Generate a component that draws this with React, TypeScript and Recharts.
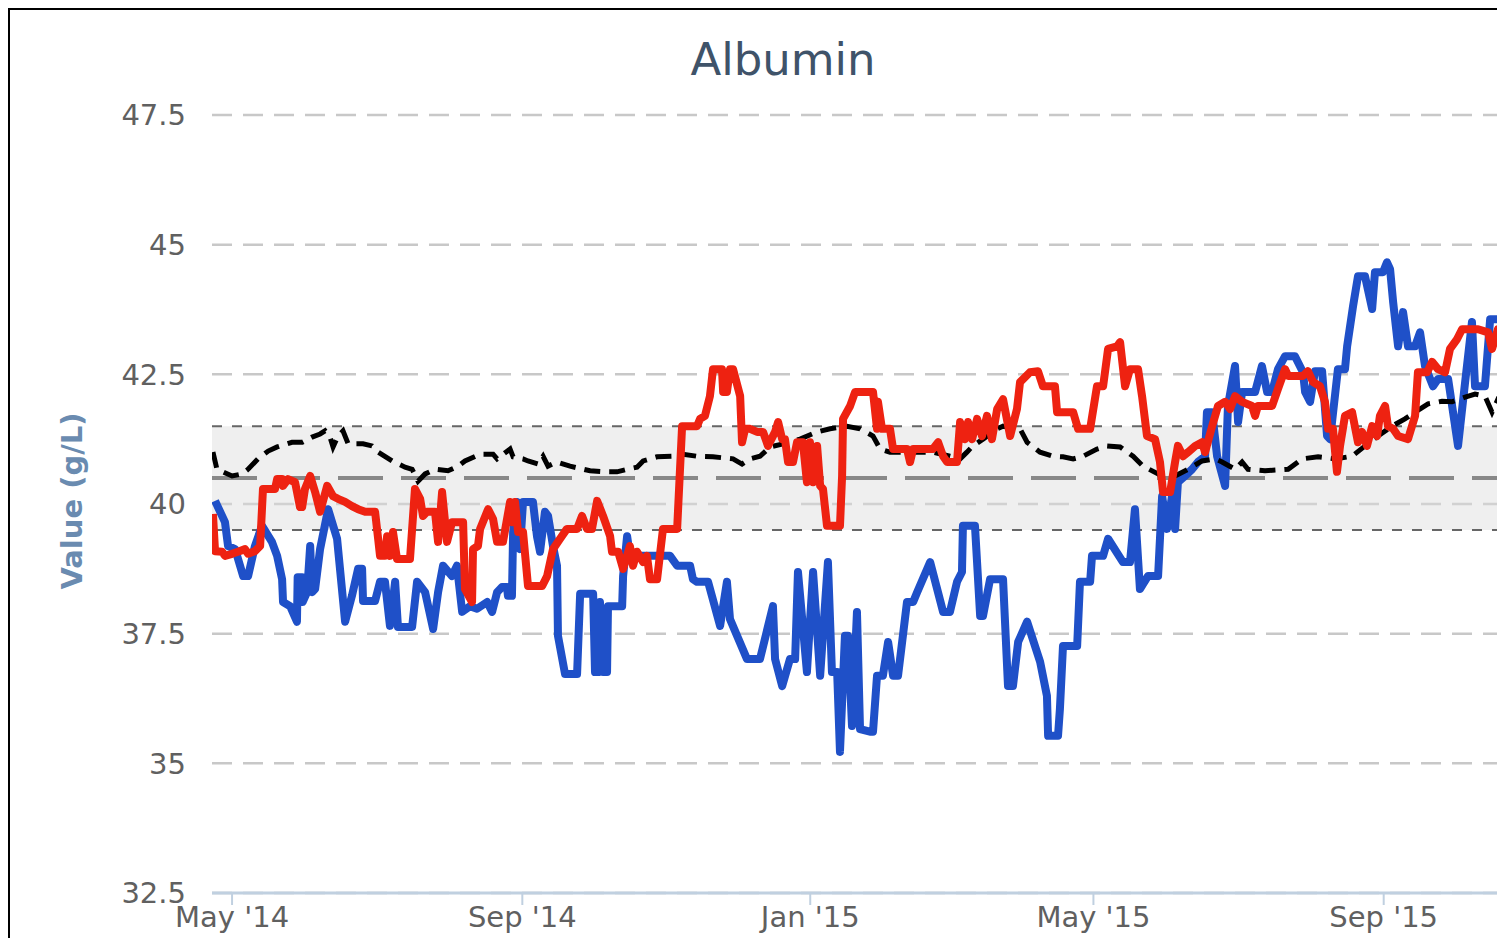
import React from "react";
import {
  LineChart,
  Line,
  XAxis,
  YAxis,
  CartesianGrid,
  ReferenceArea,
  ReferenceLine,
  Label,
} from "recharts";

// x values are days since 1 May 2014
const monthTickDays = [0, 123, 245, 365, 488];
const monthTickLabels = ["May '14", "Sep '14", "Jan '15", "May '15", "Sep '15"];
const valueTicks = [32.5, 35, 37.5, 40, 42.5, 45, 47.5];
const dayDomain = [-8.5, 539.4];

// reference range
const rangeLow = 39.5;
const rangeMid = 40.5;
const rangeHigh = 41.5;

// [day, g/L]
const bluePatient = [
  [-7.2, 40.06], [-3.0, 39.65], [-1.7, 39.19], [1.3, 39.13], [4.7, 38.61], [6.8, 38.61],
  [9.7, 39.19], [12.7, 39.58], [16.9, 39.27], [19.1, 39.0], [21.2, 38.55], [21.6, 38.11],
  [24.6, 38.03], [27.5, 37.73], [27.8, 38.59], [29.7, 38.59], [29.9, 38.11], [31.8, 38.3],
  [33.1, 39.19], [33.9, 38.3], [35.2, 38.36], [37.3, 39.13], [40.7, 39.9], [44.5, 39.33],
  [47.9, 37.73], [50.8, 38.23], [53.4, 38.75], [55.1, 38.75], [55.5, 38.13], [60.6, 38.13],
  [62.7, 38.5], [64.8, 38.5], [66.9, 37.65], [69.1, 38.5], [70.3, 37.63], [76.3, 37.63],
  [78.4, 38.5], [81.8, 38.3], [85.2, 37.59], [87.3, 38.3], [89.4, 38.81], [93.2, 38.61],
  [95.3, 38.81], [97.5, 37.92], [100.8, 38.03], [103.8, 37.98], [108.1, 38.11], [110.2, 37.92],
  [112.3, 38.3], [114.4, 38.4], [116.5, 38.4], [116.9, 38.23], [118.6, 38.23], [119.1, 39.46],
  [120.8, 40.04], [122.0, 39.13], [123.3, 40.04], [127.5, 40.04], [129.2, 39.38], [130.5, 39.08],
  [132.6, 39.85], [133.9, 39.77], [136.0, 39.19], [137.7, 38.81], [138.1, 37.46], [141.1, 36.72],
  [146.2, 36.72], [147.5, 38.27], [153.0, 38.27], [153.8, 36.76], [155.1, 36.76], [155.9, 38.11],
  [157.2, 36.76], [158.9, 36.76], [159.3, 38.03], [165.3, 38.03], [165.7, 38.61], [167.4, 39.38],
  [168.6, 39.0], [177.1, 39.0], [185.6, 39.0], [188.6, 38.81], [194.1, 38.81], [195.3, 38.55],
  [197.0, 38.5], [201.7, 38.5], [206.8, 37.65], [209.7, 38.5], [211.0, 37.78], [218.2, 37.01],
  [223.7, 37.01], [229.2, 38.03], [230.1, 37.01], [233.1, 36.49], [236.4, 37.01], [238.6, 37.01],
  [239.8, 38.69], [243.6, 36.76], [246.2, 38.69], [249.2, 36.69], [252.5, 38.88], [254.2, 36.76],
  [256.4, 36.76], [257.6, 35.22], [259.7, 37.46], [261.0, 37.46], [262.7, 35.72], [264.8, 37.92],
  [266.1, 35.66], [270.3, 35.61], [271.6, 35.61], [273.3, 36.69], [275.8, 36.69], [278.0, 37.34],
  [280.1, 36.69], [282.2, 36.69], [286.0, 38.11], [288.6, 38.11], [290.3, 38.3], [295.8, 38.88],
  [301.3, 37.92], [304.2, 37.92], [307.2, 38.5], [309.3, 38.69], [309.7, 39.58], [314.8, 39.58],
  [317.0, 37.84], [318.2, 37.84], [321.2, 38.55], [326.7, 38.55], [328.8, 36.49], [330.9, 36.49],
  [333.1, 37.34], [336.9, 37.73], [342.4, 36.96], [345.3, 36.3], [345.8, 35.53], [350.0, 35.53],
  [350.8, 36.05], [352.1, 37.26], [358.1, 37.26], [359.3, 38.5], [363.6, 38.5], [364.4, 39.0],
  [369.1, 39.0], [371.2, 39.33], [377.5, 38.88], [380.5, 38.88], [382.6, 39.9], [384.7, 38.36],
  [388.1, 38.61], [392.4, 38.61], [394.1, 40.15], [396.2, 39.52], [398.3, 40.15], [399.6, 39.52],
  [400.8, 40.42], [403.8, 40.54], [406.8, 40.67], [409.3, 40.81], [412.3, 40.92], [413.1, 41.77],
  [415.3, 41.77], [417.4, 40.92], [420.8, 40.35], [422.0, 41.89], [425.0, 42.66], [426.3, 41.58],
  [428.0, 42.16], [433.5, 42.16], [436.4, 42.66], [438.6, 42.16], [440.7, 42.16], [443.2, 42.6],
  [446.2, 42.85], [450.4, 42.85], [453.8, 42.54], [454.7, 42.16], [456.8, 41.97], [458.9, 42.56],
  [461.9, 42.56], [464.0, 41.31], [465.3, 41.25], [468.6, 42.6], [471.6, 42.6], [472.5, 43.04],
  [475.0, 43.81], [477.1, 44.39], [480.1, 44.39], [483.1, 43.76], [484.3, 44.47], [487.7, 44.47],
  [489.4, 44.66], [490.7, 44.53], [492.0, 43.89], [494.1, 43.04], [496.2, 43.7], [498.3, 43.04],
  [501.3, 43.04], [503.4, 43.31], [505.5, 42.66], [508.9, 42.27], [511.0, 42.41], [515.3, 42.41],
  [519.5, 41.12], [522.5, 42.35], [525.4, 43.51], [526.7, 42.27], [530.9, 42.27], [533.1, 43.56],
  [539.4, 43.56],
];

const redPatient = [
  [-8.1, 39.81], [-7.2, 39.09], [-4.2, 39.08], [-3.0, 39.0], [0, 39.04], [2.5, 39.08],
  [5.5, 39.13], [6.8, 39.04], [9.7, 39.09], [11.9, 39.19], [13.1, 40.29], [18.2, 40.29],
  [19.1, 40.48], [21.2, 40.48], [21.6, 40.35], [23.7, 40.48], [26.7, 40.42], [28.8, 39.94],
  [29.7, 39.94], [30.9, 40.29], [33.1, 40.54], [35.2, 40.23], [37.3, 39.85], [40.3, 40.35],
  [42.8, 40.15], [44.9, 40.1], [47.9, 40.04], [50.8, 39.96], [53.4, 39.9], [56.4, 39.85],
  [60.6, 39.85], [61.9, 39.33], [62.7, 39.0], [64.8, 39.0], [65.7, 39.38], [66.9, 39.0],
  [68.2, 39.46], [69.9, 38.94], [75.4, 38.94], [77.5, 40.29], [79.7, 40.1], [80.9, 39.77],
  [82.6, 39.85], [86.0, 39.85], [87.3, 39.27], [89.0, 40.23], [91.1, 39.27], [93.2, 39.65],
  [97.9, 39.65], [98.7, 38.36], [101.7, 38.11], [102.1, 39.13], [104.2, 39.19], [105.1, 39.52],
  [108.5, 39.9], [110.6, 39.71], [112.3, 39.27], [114.8, 39.27], [117.8, 40.04], [118.6, 39.65],
  [119.9, 40.04], [121.2, 39.46], [123.3, 39.46], [125.4, 38.42], [131.4, 38.42], [133.5, 38.61],
  [136.0, 39.13], [139.0, 39.33], [141.9, 39.52], [146.2, 39.52], [148.3, 39.77], [150.4, 39.52],
  [152.5, 39.52], [154.7, 40.06], [157.2, 39.77], [160.2, 39.38], [161.0, 39.08], [163.6, 39.08],
  [165.7, 38.75], [168.6, 39.19], [169.9, 38.81], [171.6, 39.08], [174.2, 38.88], [175.8, 39.0],
  [177.1, 38.55], [180.1, 38.55], [182.6, 39.52], [188.6, 39.52], [190.7, 41.5], [197.0, 41.5],
  [198.3, 41.64], [200.4, 41.7], [202.5, 42.08], [203.8, 42.6], [207.6, 42.6], [208.1, 42.16],
  [209.7, 42.16], [211.0, 42.6], [212.3, 42.6], [215.3, 42.08], [216.1, 41.19], [217.4, 41.45],
  [219.5, 41.45], [222.5, 41.39], [225.0, 41.39], [227.1, 41.12], [230.1, 41.39], [231.4, 41.58],
  [233.1, 41.25], [234.3, 41.25], [235.6, 40.81], [237.7, 40.81], [239.4, 41.19], [241.9, 41.19],
  [243.6, 40.42], [244.9, 41.19], [246.2, 40.42], [247.9, 41.12], [249.2, 40.35], [250.4, 40.29],
  [252.1, 39.58], [257.6, 39.58], [258.5, 40.54], [258.9, 41.64], [261.9, 41.89], [264.0, 42.16],
  [271.6, 42.16], [273.3, 41.45], [273.7, 41.97], [275.4, 41.45], [278.8, 41.45], [280.1, 41.06],
  [286.0, 41.06], [287.3, 40.81], [288.6, 41.06], [297.0, 41.06], [299.2, 41.19], [301.3, 40.92],
  [303.0, 40.81], [307.2, 40.81], [308.5, 41.58], [310.6, 41.25], [311.9, 41.58], [313.6, 41.25],
  [315.7, 41.64], [317.8, 41.31], [319.9, 41.7], [322.0, 41.25], [324.2, 41.83], [326.7, 42.02],
  [329.7, 41.31], [332.6, 41.83], [333.9, 42.35], [338.1, 42.54], [341.5, 42.56], [343.6, 42.27],
  [348.7, 42.27], [349.6, 41.77], [356.4, 41.77], [358.5, 41.45], [363.6, 41.45], [366.5, 42.27],
  [369.1, 42.27], [371.2, 42.99], [375.0, 43.04], [376.3, 43.12], [378.4, 42.27], [380.5, 42.6],
  [383.9, 42.6], [385.6, 42.08], [387.7, 41.31], [391.1, 41.25], [393.2, 40.81], [394.5, 40.23],
  [397.5, 40.23], [399.6, 40.81], [400.8, 41.12], [403.0, 40.92], [405.1, 41.0], [408.1, 41.12],
  [411.0, 41.19], [412.3, 41.0], [415.3, 41.5], [417.8, 41.89], [420.8, 41.97], [422.9, 41.83],
  [425.0, 42.08], [428.0, 41.97], [432.2, 41.89], [433.5, 41.7], [434.7, 41.89], [440.7, 41.89],
  [443.2, 42.22], [446.2, 42.6], [447.5, 42.47], [453.8, 42.47], [455.9, 42.56], [458.1, 42.35],
  [461.0, 42.27], [463.1, 41.97], [464.4, 41.45], [466.5, 41.45], [468.2, 40.62], [469.5, 41.12],
  [471.6, 41.7], [474.6, 41.77], [477.1, 41.19], [478.8, 41.39], [480.9, 41.12], [483.1, 41.5],
  [485.2, 41.31], [486.4, 41.7], [488.6, 41.89], [489.8, 41.5], [492.0, 41.45], [494.1, 41.31],
  [498.3, 41.25], [501.3, 41.7], [502.5, 42.54], [506.4, 42.54], [508.5, 42.74], [511.0, 42.6],
  [514.0, 42.54], [516.1, 42.99], [519.1, 43.18], [521.2, 43.37], [528.0, 43.37], [532.2, 43.31],
  [533.9, 42.99], [536.4, 43.37], [539.4, 42.7],
];

const blackAverage = [
  [-8.1, 41.0], [-6.4, 40.67], [0, 40.54], [4.2, 40.58], [6.8, 40.67], [11.0, 40.87],
  [15.3, 41.02], [19.1, 41.1], [25.4, 41.19], [29.7, 41.19], [33.9, 41.29], [37.3, 41.35],
  [39.4, 41.41], [41.5, 41.29], [42.8, 41.1], [44.9, 41.31], [47.0, 41.41], [49.2, 41.16],
  [55.5, 41.16], [59.3, 41.12], [61.9, 41.0], [67.8, 40.83], [73.3, 40.71], [76.3, 40.67],
  [78.8, 40.44], [81.8, 40.58], [86.0, 40.67], [91.5, 40.64], [95.8, 40.73], [98.7, 40.83],
  [105.1, 40.96], [110.6, 40.96], [112.3, 40.87], [117.8, 41.06], [119.1, 40.91], [123.3, 40.87],
  [125.4, 40.83], [129.7, 40.77], [131.8, 40.92], [133.9, 40.73], [137.7, 40.81], [143.2, 40.73],
  [151.7, 40.64], [158.9, 40.62], [163.1, 40.62], [167.4, 40.67], [171.6, 40.71], [174.2, 40.83],
  [180.1, 40.91], [186.9, 40.92], [191.1, 40.96], [197.0, 40.92], [203.8, 40.91], [212.3, 40.87],
  [216.1, 40.77], [219.5, 40.87], [223.7, 40.92], [228.0, 41.1], [233.5, 41.16], [240.7, 41.25],
  [247.9, 41.39], [253.4, 41.45], [260.6, 41.5], [266.1, 41.45], [271.6, 41.31], [274.6, 41.06],
  [278.8, 41.0], [284.3, 41.0], [290.3, 41.0], [297.0, 41.0], [304.2, 40.92], [308.5, 40.87],
  [311.4, 41.0], [313.9, 41.12], [318.2, 41.25], [324.2, 41.45], [326.7, 41.5], [330.9, 41.45],
  [333.9, 41.45], [336.9, 41.19], [342.4, 41.0], [347.9, 40.92], [352.1, 40.91], [356.4, 40.87],
  [360.6, 40.92], [366.5, 41.06], [370.8, 41.12], [376.3, 41.1], [381.8, 40.92], [386.0, 40.73],
  [394.1, 40.54], [399.6, 40.54], [405.1, 40.67], [411.0, 40.83], [416.5, 40.87], [419.5, 40.81],
  [425.0, 40.67], [428.0, 40.81], [430.5, 40.67], [437.7, 40.64], [447.5, 40.67], [453.4, 40.87],
  [460.2, 40.91], [467.4, 40.87], [474.6, 40.92], [480.1, 41.12], [485.6, 41.31], [491.5, 41.5],
  [497.0, 41.64], [501.3, 41.77], [506.8, 41.93], [512.7, 41.98], [516.9, 41.97], [522.5, 42.06],
  [526.7, 42.12], [530.9, 42.08], [533.9, 41.77], [536.4, 42.02], [539.4, 41.97],
];

const toPoints = (rows: number[][]) => rows.map(([day, value]) => ({ day, value }));

const FONT = "DejaVu Sans";

const yAxisTitle = () => (
  <text
    x={62}
    y={491}
    transform="rotate(-90, 62, 491)"
    textAnchor="middle"
    dominantBaseline="central"
    fill="#6a8bb0"
    fontSize={29}
    fontWeight="bold"
    fontFamily={FONT}
  >
    Value (g/L)
  </text>
);

export default function App() {
  return (
    <div
      style={{
        position: "relative",
        width: 1497,
        height: 930,
        boxSizing: "border-box",
        borderLeft: "2px solid #000",
        borderTop: "2px solid #000",
        overflow: "hidden",
        background: "#fff",
        fontFamily: FONT,
      }}
    >
      <div
        style={{
          position: "absolute",
          left: 0,
          top: 24,
          width: 1546,
          textAlign: "center",
          fontSize: 45,
          lineHeight: "52px",
          color: "#3f5369",
        }}
      >
        Albumin
      </div>
      <LineChart
        width={1495}
        height={936}
        margin={{ top: 105, right: 0, left: 0, bottom: 0 }}
      >
        <ReferenceArea
          y1={rangeLow}
          y2={rangeHigh}
          fill="#dcdcdc"
          fillOpacity={0.45}
          stroke="none"
        />
        <CartesianGrid
          horizontal
          vertical={false}
          stroke="#c8c8c8"
          strokeWidth={2.5}
          strokeDasharray="20 11"
        />
        <ReferenceLine y={rangeHigh} stroke="#666" strokeWidth={2} strokeDasharray="10 10" />
        <ReferenceLine y={rangeLow} stroke="#666" strokeWidth={2} strokeDasharray="10 10" />
        <ReferenceLine y={rangeMid} stroke="#888" strokeWidth={4} strokeDasharray="45 18" />
        <XAxis
          dataKey="day"
          type="number"
          domain={dayDomain}
          allowDataOverflow
          ticks={monthTickDays}
          interval={0}
          tickFormatter={(d: number) => monthTickLabels[monthTickDays.indexOf(d)]}
          height={53}
          axisLine={{ stroke: "#c0d0e0", strokeWidth: 3 }}
          tickLine={{ stroke: "#c0d0e0", strokeWidth: 2 }}
          tickSize={12}
          tickMargin={1}
          tick={{ fill: "#606060", fontSize: 29, fontFamily: FONT }}
        />
        <YAxis
          type="number"
          domain={[32.5, 47.5]}
          allowDataOverflow
          ticks={valueTicks}
          interval={0}
          width={202}
          axisLine={false}
          tickLine={false}
          tickSize={0}
          tickMargin={26}
          tick={{ fill: "#606060", fontSize: 29, fontFamily: FONT }}
          label={<Label content={yAxisTitle} />}
        />
        <Line
          data={toPoints(bluePatient)}
          dataKey="value"
          type="linear"
          stroke="#1f50c8"
          strokeWidth={8}
          strokeLinejoin="round"
          dot={false}
          activeDot={false}
          isAnimationActive={false}
        />
        <Line
          data={toPoints(blackAverage)}
          dataKey="value"
          type="linear"
          stroke="#000"
          strokeWidth={5}
          strokeDasharray="16 9"
          dot={false}
          activeDot={false}
          isAnimationActive={false}
        />
        <Line
          data={toPoints(redPatient)}
          dataKey="value"
          type="linear"
          stroke="#ee2211"
          strokeWidth={8}
          strokeLinejoin="round"
          dot={false}
          activeDot={false}
          isAnimationActive={false}
        />
      </LineChart>
    </div>
  );
}
